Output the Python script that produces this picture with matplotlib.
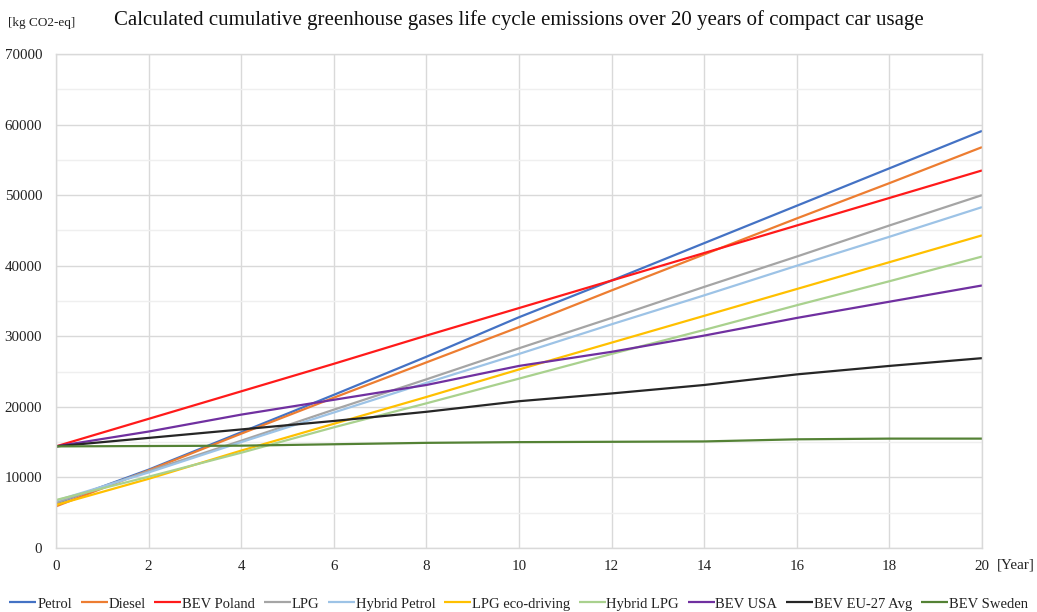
import matplotlib
matplotlib.use("Agg")
import matplotlib.pyplot as plt
from matplotlib.ticker import MultipleLocator

plt.rcParams['font.family'] = ['Liberation Serif', 'DejaVu Serif']

years = [0, 2, 4, 6, 8, 10, 12, 14, 16, 18, 20]

petrol        = [6300, 11100, 16400, 21700, 27100, 32700, 37900, 43200, 48500, 53800, 59100]
diesel        = [5900, 11000, 16200, 21300, 26300, 31300, 36500, 41600, 46700, 51700, 56800]
bev_poland    = [14400, 18300, 22200, 26100, 30100, 34000, 37900, 41800, 45700, 49600, 53500]
lpg           = [6400, 10900, 15200, 19600, 23900, 28300, 32600, 37000, 41300, 45700, 50000]
hybrid_petrol = [6700, 10700, 15000, 19200, 23400, 27500, 31700, 35800, 40000, 44100, 48300]
lpg_eco       = [6100, 9800, 13800, 17600, 21400, 25300, 29100, 32900, 36700, 40500, 44300]
hybrid_lpg    = [6800, 10100, 13500, 17100, 20500, 24000, 27500, 30900, 34400, 37800, 41300]
bev_usa       = [14400, 16500, 18900, 21000, 23100, 25800, 27800, 30100, 32600, 34900, 37200]
bev_eu27      = [14400, 15600, 16800, 18000, 19300, 20800, 21900, 23100, 24600, 25800, 26900]
bev_sweden    = [14400, 14450, 14500, 14700, 14900, 15000, 15050, 15100, 15400, 15500, 15500]

series_names = ["Petrol", "Diesel", "BEV Poland", "LPG", "Hybrid Petrol",
                "LPG eco-driving", "Hybrid LPG", "BEV USA", "BEV EU-27 Avg", "BEV Sweden"]
series_values = [petrol, diesel, bev_poland, lpg, hybrid_petrol,
                 lpg_eco, hybrid_lpg, bev_usa, bev_eu27, bev_sweden]
colors = ["#4472C4", "#ED7D31", "#FF1A1A", "#A5A5A5", "#9DC3E6",
          "#FFC000", "#A9D18E", "#7030A0", "#262626", "#548235"]

title = "Calculated cumulative greenhouse gases life cycle emissions over 20 years of compact car usage"
y_unit = "[kg CO2-eq]"
x_unit = "[Year]"

fig = plt.figure(figsize=(10.37, 6.12), dpi=100)
ax = fig.add_axes([56/1037, 1 - 548/612, (982-56)/1037, (548-54)/612])

for name, vals, c in zip(series_names, series_values, colors):
    ax.plot(years, vals, color=c, lw=1.6, label=name, solid_capstyle='butt')

ax.set_xlim(0, 20)
ax.set_ylim(0, 70000)
ax.xaxis.set_major_locator(MultipleLocator(2))
ax.yaxis.set_major_locator(MultipleLocator(10000))
ax.yaxis.set_minor_locator(MultipleLocator(5000))
ax.grid(which='major', color='#d9d9d9', lw=1.0)
ax.grid(which='minor', axis='y', color='#efefef', lw=1.0)
ax.set_axisbelow(True)
for s in ax.spines.values():
    s.set_color('#d9d9d9')
    s.set_linewidth(1.0)
ax.tick_params(which='both', length=0, labelsize=10.8, colors='#222222')
ax.tick_params(axis='y', pad=10)
ax.tick_params(axis='x', pad=9)

fig.text(519/1037, 1 - 20/612, title, ha='center', va='center', fontsize=15, color='#111111')
fig.text(8/1037, 1 - 23/612, y_unit, ha='left', va='center', fontsize=9.5, color='#222222')
fig.text(997/1037, 1 - 565/612, x_unit, ha='left', va='center', fontsize=10.8, color='#222222')

fig.legend(loc='lower center', bbox_to_anchor=(0.5, -0.012), ncol=10, frameon=False,
           fontsize=10.5, handlelength=1.85, handletextpad=0.05, columnspacing=0.6,
           borderaxespad=0.2, labelcolor='#222222')

fig.savefig("out.png", dpi=100, facecolor='white')
